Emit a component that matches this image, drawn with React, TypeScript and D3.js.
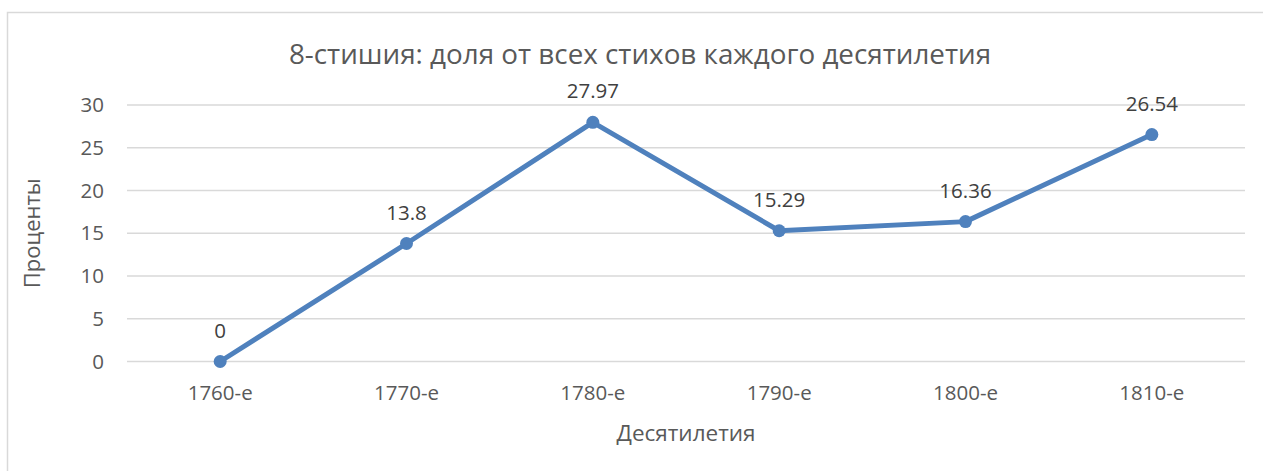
import React from "react";
import * as d3 from "d3";

const categories = ["1760-е", "1770-е", "1780-е", "1790-е", "1800-е", "1810-е"];
const values = [0, 13.8, 27.97, 15.29, 16.36, 26.54];
const yTicks = [0, 5, 10, 15, 20, 25, 30];

const title = "8-стишия: доля от всех стихов каждого десятилетия";
const xTitle = "Десятилетия";
const yTitle = "Проценты";

const W = 1263;
const H = 471;
const plot = { left: 127, right: 1245, top: 105, bottom: 361.5 };
const font = "'Open Sans', 'Noto Sans', sans-serif";
const lineColor = "#4f81bd";

const App: React.FC = () => {
  const x = d3
    .scalePoint<string>()
    .domain(categories)
    .range([plot.left, plot.right])
    .padding(0.5);
  const y = d3.scaleLinear().domain([0, 30]).range([plot.bottom, plot.top]);

  const line = d3
    .line<number>()
    .x((_, i) => x(categories[i])!)
    .y((d) => y(d));

  return (
    <svg
      width={W}
      height={H}
      style={{ position: "absolute", left: 0, top: 0, background: "#fff" }}
      fontFamily={font}
    >
      <rect x={0} y={0} width={W} height={H} fill="#fff" />
      {/* chart area border */}
      <rect
        x={7.5}
        y={12.5}
        width={W + 20}
        height={H + 20}
        fill="none"
        stroke="#d9d9d9"
        strokeWidth={1.5}
      />

      <text x={640} y={64} textAnchor="middle" fontSize={27.8} fill="#595959">
        {title}
      </text>

      {/* gridlines + y ticks */}
      {yTicks.map((t) => (
        <g key={t}>
          <line
            x1={plot.left}
            x2={plot.right}
            y1={y(t)}
            y2={y(t)}
            stroke="#d9d9d9"
            strokeWidth={1.5}
          />
          <text
            x={104}
            y={y(t)}
            dy="0.35em"
            textAnchor="end"
            fontSize={20.5}
            fill="#595959"
          >
            {t}
          </text>
        </g>
      ))}

      {/* x labels */}
      {categories.map((c) => (
        <text
          key={c}
          x={x(c)}
          y={400}
          textAnchor="middle"
          fontSize={20.5}
          fill="#595959"
        >
          {c}
        </text>
      ))}

      <text
        x={(plot.left + plot.right) / 2}
        y={441}
        textAnchor="middle"
        fontSize={22.5}
        fill="#595959"
      >
        {xTitle}
      </text>

      <text
        transform={`translate(40, ${(plot.top + plot.bottom) / 2}) rotate(-90)`}
        textAnchor="middle"
        fontSize={22}
        fill="#595959"
      >
        {yTitle}
      </text>

      {/* series */}
      <path
        d={line(values) ?? ""}
        fill="none"
        stroke={lineColor}
        strokeWidth={5}
        strokeLinejoin="round"
        strokeLinecap="round"
      />
      {values.map((v, i) => (
        <circle
          key={i}
          cx={x(categories[i])}
          cy={y(v)}
          r={6.5}
          fill={lineColor}
        />
      ))}
      {values.map((v, i) => (
        <text
          key={"l" + i}
          x={x(categories[i])}
          y={y(v) - 24}
          textAnchor="middle"
          fontSize={20.5}
          fill="#404040"
        >
          {String(v)}
        </text>
      ))}
    </svg>
  );
};

export default App;
